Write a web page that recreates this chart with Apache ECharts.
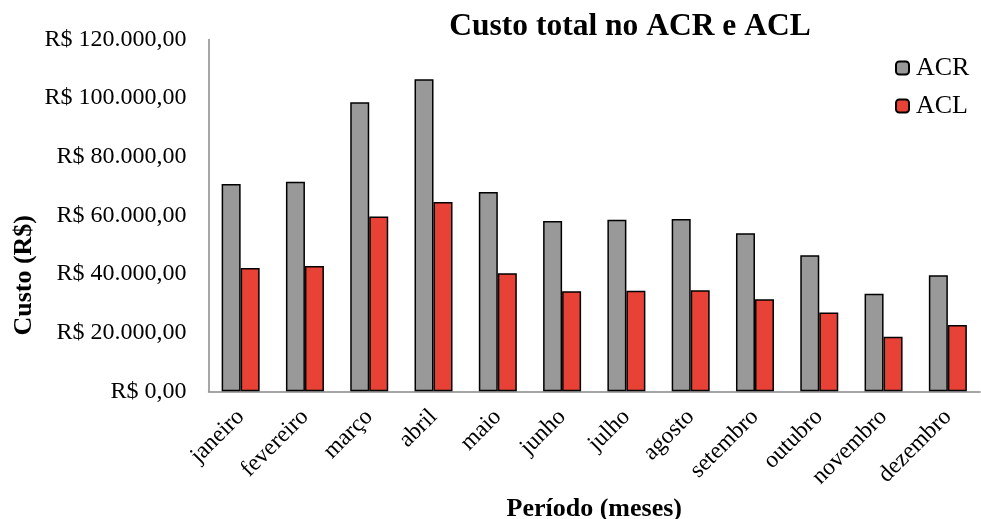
<!DOCTYPE html>
<html><head><meta charset="utf-8">
<script src="https://cdn.jsdelivr.net/npm/echarts@6/dist/echarts.min.js"></script>
<style>html,body{margin:0;padding:0;background:#fff}#c{width:981px;height:519px}</style>
</head><body><div id="c"></div>
<script>
const categories = ['janeiro','fevereiro','março','abril','maio','junho','julho','agosto','setembro','outubro','novembro','dezembro'];
const acr = [70700, 71500, 98600, 106400, 68000, 58100, 58500, 58800, 53900, 46400, 33300, 39600];
const acl = [42100, 42700, 59600, 64600, 40300, 34100, 34300, 34500, 31400, 26900, 18600, 22600];
const yTicks = [0, 20000, 40000, 60000, 80000, 100000, 120000];

function fmt(v){
  const s = Math.round(v).toString().replace(/\B(?=(\d{3})+(?!\d))/g, '.');
  return 'R$ ' + s + ',00';
}
const font = 'Liberation Serif';
const chart = echarts.init(document.getElementById('c'), null, {renderer:'canvas'});
chart.setOption({
  animation:false,
  backgroundColor:'#fff',
  title:{text:'Custo total no ACR e ACL', left:625, top:6, textAlign:'center',
    textStyle:{fontFamily:font, fontWeight:'bold', fontSize:31.5, color:'#000'}},
  legend:{left:890, top:50, orient:'vertical', itemWidth:13, itemHeight:13, itemGap:12,
    textStyle:{fontFamily:font, fontSize:26, color:'#000', padding:[0,0,0,2]},
    data:['ACR','ACL']},
  grid:{left:208.5, top:39.5, right:1, bottom:127.7, containLabel:false, outerBoundsMode:'none'},
  xAxis:{type:'category', data:categories,
    axisLine:{lineStyle:{color:'#888', width:1.5}}, axisTick:{show:false},
    axisLabel:{rotate:45, fontFamily:font, fontSize:23.5, color:'#000', margin:22, interval:0},
    name:'Período (meses)', nameLocation:'middle', nameGap:100,
    nameTextStyle:{fontFamily:font, fontWeight:'bold', fontSize:26, color:'#000'}},
  yAxis:{type:'value', min:0, max:120000, interval:20000,
    axisLine:{show:true, lineStyle:{color:'#888', width:1.5}}, axisTick:{show:false},
    splitLine:{show:false},
    axisLabel:{formatter:fmt, fontFamily:font, fontSize:24, color:'#000', margin:22}},
  graphic:[{type:'text', left:11, top:215, rotation:Math.PI/2,
    style:{text:'Custo (R$)', font:'bold 26px "Liberation Serif"', fill:'#000'},
    originX:0, originY:0}],
  series:[
    {name:'ACR', type:'bar', data:acr, barWidth:19, barGap:'0%',
      itemStyle:{color:'#999999', borderColor:'#000', borderWidth:1.5}},
    {name:'ACL', type:'bar', data:acl, barWidth:19, barGap:'0%',
      itemStyle:{color:'#E84236', borderColor:'#000', borderWidth:1.5}}
  ]
});
</script></body></html>
